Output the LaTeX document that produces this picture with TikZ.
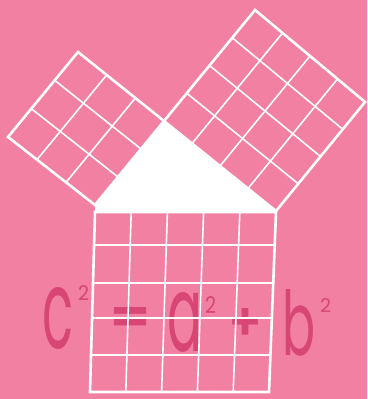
\documentclass[tikz,border=0pt]{standalone}
\usepackage{fontspec}
\setmainfont{Poppins}
\newfontfamily\popsemi{Poppins SemiBold}
\usepackage{graphicx}
\usetikzlibrary{calc}
\definecolor{bgpink}{RGB}{241,128,162}
\definecolor{txtpink}{RGB}{216,70,117}
\begin{document}
\begin{tikzpicture}[x=1pt,y=-1pt,
  outline/.style={draw=white,line width=2.6pt,line join=miter},
  gridline/.style={draw=white,line width=1.6pt},
  glyph/.style={anchor=south west,inner sep=0pt,outer sep=0pt,text=txtpink,font=\mdseries},
  heavyglyph/.style={glyph,font=\bfseries},
  semiglyph/.style={glyph,font=\popsemi}]
\fill[bgpink] (0,0) rectangle (367,399);
\useasboundingbox (0,0) rectangle (367,399);
% formula
\node[glyph] (nc)    at (42,349)  {\resizebox{31pt}{61pt}{c}};
\node[glyph] (nc2)   at (78,300)  {\resizebox{11pt}{15pt}{2}};
\node[heavyglyph] (neq)   at (110,332) {\resizebox{40pt}{25pt}{=}};
\node[glyph] (na)    at (167,352) {\resizebox{35pt}{59pt}{a}};
\node[glyph] (na2)   at (205,313) {\resizebox{11pt}{17pt}{2}};
\node[semiglyph] (nplus) at (228,340) {\resizebox{34pt}{32pt}{+}};
\node[glyph] (nb)    at (282,356) {\resizebox{33pt}{66pt}{b}};
\node[glyph] (nb2)   at (320,312) {\resizebox{11pt}{14pt}{2}};
% corners
\coordinate (A) at (164,121);
\coordinate (L) at (95,205);
\coordinate (LP) at (8,137);
\coordinate (LT) at (78,52);
\coordinate (R) at (276,211);
\coordinate (RT) at (255,10);
\coordinate (RR) at (365,102);
\coordinate (BTL) at (95,212);
\coordinate (BTR) at (276,212);
\coordinate (BBR) at (269,392);
\coordinate (BBL) at (90,392);
% triangle
\fill[white] (A) -- (L) -- (BTL) -- (BTR) -- (R) -- cycle;
% left square grid
\foreach \i in {1,2}{
  \draw[gridline] ($(A)!{\i/3}!(L)$) -- ($(LT)!{\i/3}!(LP)$);
  \draw[gridline] ($(A)!{\i/3}!(LT)$) -- ($(L)!{\i/3}!(LP)$);
}
% right square grid
\foreach \i in {1,2,3}{
  \draw[gridline] ($(A)!{\i/4}!(R)$) -- ($(RT)!{\i/4}!(RR)$);
  \draw[gridline] ($(A)!{\i/4}!(RT)$) -- ($(R)!{\i/4}!(RR)$);
}
% bottom square grid
\foreach \i in {1,2,3,4}{
  \draw[gridline] ($(BTL)!{\i/5}!(BTR)$) -- ($(BBL)!{\i/5}!(BBR)$);
}
\foreach \f in {0.183,0.394,0.589,0.794}{
  \draw[gridline] ($(BTL)!\f!(BBL)$) -- ($(BTR)!\f!(BBR)$);
}
% outlines
\draw[outline] (A) -- (L) -- (LP) -- (LT) -- cycle;
\draw[outline] (A) -- (R) -- (RR) -- (RT) -- cycle;
\draw[outline] (BTL) -- (BTR) -- (BBR) -- (BBL) -- cycle;
\end{tikzpicture}
\end{document}
